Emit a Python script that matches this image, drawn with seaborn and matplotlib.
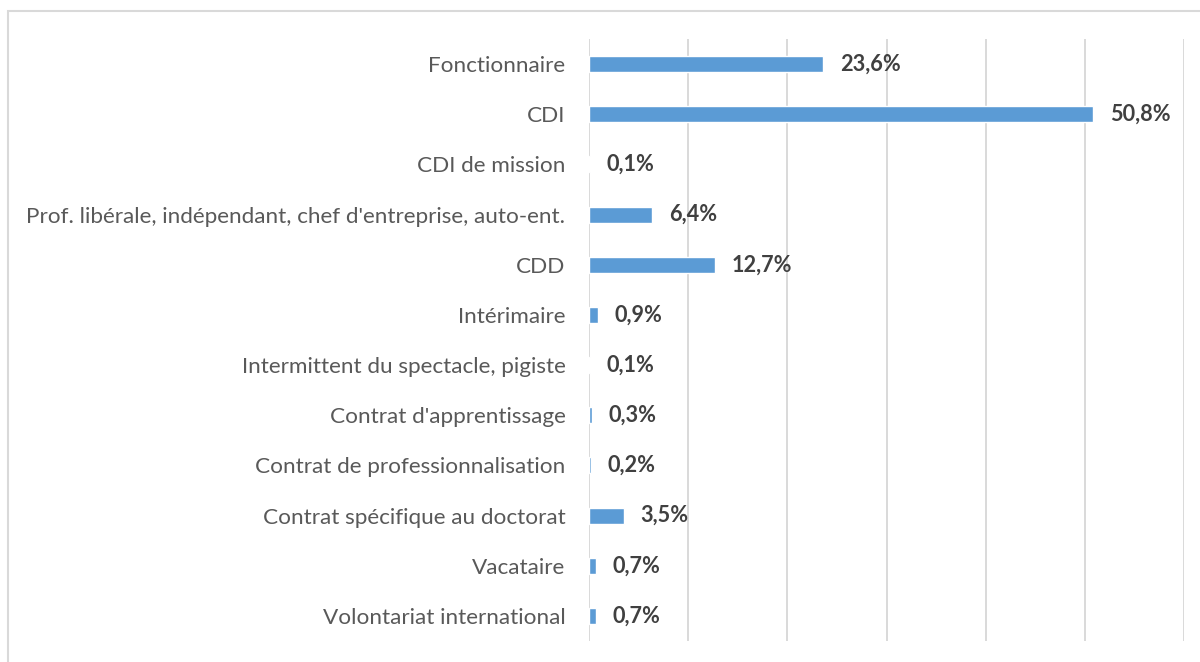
import matplotlib
matplotlib.use("Agg")
import matplotlib.pyplot as plt
from matplotlib.patches import Rectangle
import seaborn as sns
import pandas as pd

categories = [
    "Fonctionnaire",
    "CDI",
    "CDI de mission",
    "Prof. libérale, indépendant, chef d'entreprise, auto-ent.",
    "CDD",
    "Intérimaire",
    "Intermittent du spectacle, pigiste",
    "Contrat d'apprentissage",
    "Contrat de professionnalisation",
    "Contrat spécifique au doctorat",
    "Vacataire",
    "Volontariat international",
]
values = [23.6, 50.8, 0.1, 6.4, 12.7, 0.9, 0.1, 0.3, 0.2, 3.5, 0.7, 0.7]
x_ticks = [0, 10, 20, 30, 40, 50, 60]

df = pd.DataFrame({"statut": categories, "part": values})

sns.set_theme(style="white")
plt.rcParams["font.family"] = ["Lato", "DejaVu Sans"]

fig = plt.figure(figsize=(12, 6.62), dpi=100)
ax = fig.add_axes([589 / 1200, 1 - 641 / 662, (1184 - 589) / 1200, (641 - 39) / 662])

sns.barplot(data=df, x="part", y="statut", orient="h", color="#5B9BD5",
            saturation=1, width=0.32, ax=ax)

ax.set_xlim(0, 60)
ax.set_xticks(x_ticks)
ax.set_xticklabels([])
ax.tick_params(axis="x", length=0)
ax.tick_params(axis="y", length=0, pad=17, labelsize=16.2, labelcolor="#595959")
ax.grid(axis="x", color="#d9d9d9", linewidth=1.4)
ax.set_axisbelow(True)
for s in ax.spines.values():
    s.set_visible(False)
ax.set_xlabel("")
ax.set_ylabel("")

for i, v in enumerate(values):
    ax.text(v + 1.7, i, f"{v:.1f}".replace(".", ",") + "%", va="center", ha="left",
            fontsize=15.6, fontweight="bold", color="#404040")

# light outer frame of the chart area
fig.patches.append(Rectangle((7.5 / 1200, -0.1), 1.2, 1 - 10.5 / 662 + 0.1,
                             transform=fig.transFigure, fill=False,
                             edgecolor="#d9d9d9", linewidth=1.5))

fig.savefig("out.png", dpi=100)
